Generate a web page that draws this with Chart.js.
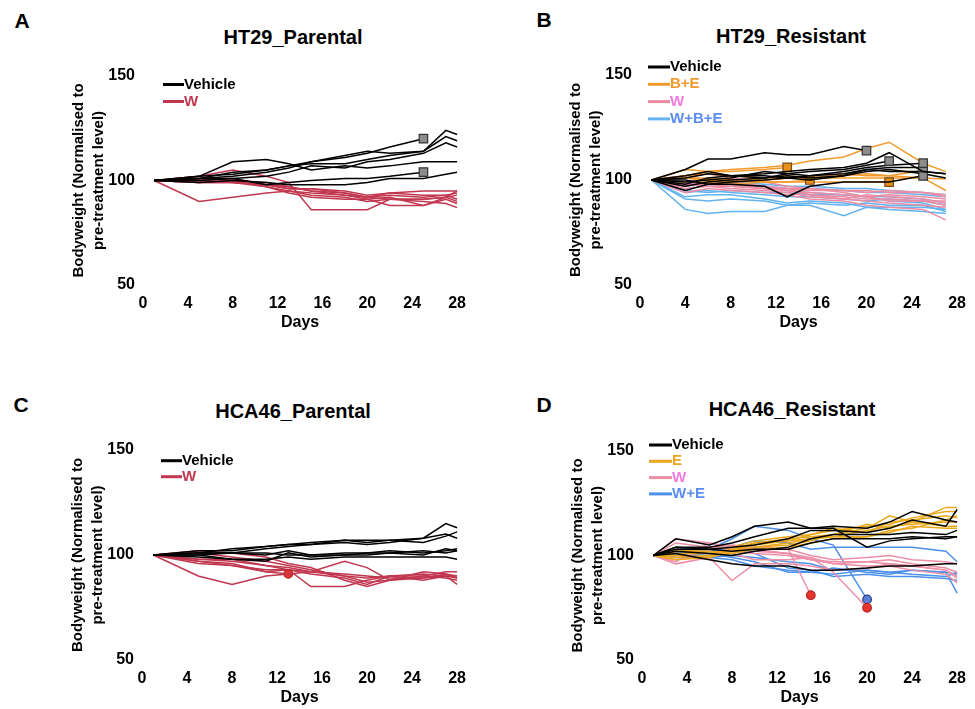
<!DOCTYPE html>
<html>
<head>
<meta charset="utf-8">
<script src="https://cdn.jsdelivr.net/npm/chart.js@4.4.1/dist/chart.umd.min.js"></script>
<style>
  body {
    margin: 0;
    width: 975px;
    height: 709px;
    position: relative;
    overflow: hidden;
    background: #fff;
    font-family: "Liberation Sans", Arial, sans-serif;
  }
  .letter,
  .title {
    position: absolute;
    font-weight: bold;
    transform: translate(-50%, -50%);
    white-space: nowrap;
  }
  .letter { font-size: 21px; }
  .title { font-size: 20px; }
  canvas { position: absolute; }
</style>
</head>
<body>
<div class="letter" style="left:22px;top:21px">A</div>
<div class="title" style="left:293px;top:37px">HT29_Parental</div>
<div class="letter" style="left:544px;top:20px">B</div>
<div class="title" style="left:791px;top:36px">HT29_Resistant</div>
<div class="letter" style="left:21px;top:405px">C</div>
<div class="title" style="left:293px;top:411px">HCA46_Parental</div>
<div class="letter" style="left:544px;top:405px">D</div>
<div class="title" style="left:792px;top:409px">HCA46_Resistant</div>

<script>
// measurement days per study
const daysA = [1, 5, 8, 11, 13, 15, 18, 20, 22, 25, 27, 28];
const daysB = [1, 4, 6, 8, 11, 13, 15, 18, 20, 22, 25, 27];
const daysC = [1, 5, 8, 11, 13, 15, 18, 20, 22, 25, 27, 28];
const daysD = [1, 3, 6, 8, 10, 13, 15, 17, 20, 22, 24, 27, 28];

// HT29 parental, one row per mouse (% of day-1 weight)
const aVehicle = [
  [100, 101, 102, 104, 106, 109, 112, 114, 113, 114, 124, 122],
  [100, 102, 103, 105, 107, 108, 108, 110, 112, 114, 121, 119],
  [100, 101, 101, 102, 104, 107, 106, 109, 110, 113, 118, 116],
  [100, 102, 109, 110, 108, 105, 107, 106, 107, 109, 109, 109],
  [100, 99, 100, 99, 98, 98, 98, 99, 101, 101, 103, 104],
  [100, 101, 104, 105, 107, 109, 111, 113, 116, 120],
  [100, 100, 101, 98, 99, 100, 101, 101, 102, 104],
];
const aVehicleMarked = [5, 6];
const aW = [
  [100, 90, 92, 94, 95, 94, 93, 92, 93, 92, 93, 94],
  [100, 102, 105, 102, 99, 86, 86, 86, 91, 91, 92, 95],
  [100, 99, 100, 99, 97, 95, 94, 92, 91, 90, 89, 87],
  [100, 100, 101, 98, 96, 96, 94, 92, 94, 93, 93, 91],
  [100, 99, 99, 97, 95, 93, 92, 90, 91, 91, 92, 90],
  [100, 100, 99, 98, 97, 95, 93, 91, 92, 88, 92, 93],
  [100, 101, 100, 97, 94, 92, 91, 91, 88, 88, 91, 89],
  [100, 99, 99, 98, 96, 96, 95, 93, 94, 95, 95, 95],
];

// HT29 resistant
const bVehicle = [
  [100, 105, 110, 110, 113, 112, 112, 116, 114],
  [100, 98, 101, 102, 103, 104, 105, 106, 108, 113, 104, 103],
  [100, 97, 99, 100, 101, 103, 104, 105, 107, 109],
  [100, 101, 103, 102, 102, 101, 102, 104, 106, 107, 108],
  [100, 99, 100, 101, 104, 103, 102, 103, 105, 106, 106],
  [100, 95, 98, 98, 97, 92, 97, 99, 99, 99, 102],
  [100, 102, 104, 102, 101, 102, 101, 102, 104, 105, 103, 101],
  [100, 100, 98, 99, 100, 101, 100, 102, 105, 104, 104, 103],
];
const bVehicleMarked = [0, 2, 3, 4, 5];
const bBE = [
  [100, 105, 104, 104, 105, 106],
  [100, 101, 101, 100, 99, 99, 100],
  [100, 102, 104, 105, 106, 107, 109, 111, 115, 118, 108, 104],
  [100, 101, 100, 99, 100, 101, 101, 103, 102, 102, 104.5],
  [100, 99, 99, 98, 99, 99, 99, 99, 99, 99],
  [100, 101, 100, 100, 100, 101, 101, 102, 103, 102, 101, 95],
  [100, 102, 103, 102, 101, 102, 101, 101, 101, 101, 101, 100.5],
];
const bBEMarked = [0, 1, 3, 4];
const bW = [
  [100, 94, 96, 95, 94, 93, 91, 90, 88, 87, 86, 81],
  [100, 97, 99, 98, 96, 95, 93, 91, 90, 89, 88, 87],
  [100, 98, 97, 96, 95, 94, 92, 91, 93, 92, 91, 89],
  [100, 99, 100, 98, 96, 95, 94, 93, 92, 93, 92, 91],
  [100, 96, 97, 97, 96, 96, 95, 95, 94, 95, 94, 93],
  [100, 101, 103, 101, 99, 97, 96, 94, 92, 90, 90, 88],
  [100, 98, 98, 99, 97, 96, 93, 92, 91, 91, 90, 90],
  [100, 99, 98, 97, 96, 96, 96, 95, 95, 94, 94, 92],
];
const bWBE = [
  [100, 86, 84, 85, 85, 88, 88, 83, 87, 86, 85, 84],
  [100, 91, 90, 91, 90, 88, 89, 88, 89, 88, 88, 85],
  [100, 92, 93, 93, 91, 89, 90, 89, 87, 87, 87, 86],
  [100, 94, 95, 94, 93, 92, 92, 91, 90, 91, 90, 88],
  [100, 95, 94, 95, 94, 94, 93, 93, 92, 92, 91, 89],
  [100, 97, 98, 97, 97, 96, 96, 95, 94, 94, 93, 92],
  [100, 99, 100, 99, 98, 97, 97, 96, 96, 95, 94, 93],
  [100, 98, 99, 98, 97, 95, 94, 93, 92, 90, 89, 86],
];

// HCA46 parental
const cVehicle = [
  [100, 101, 103, 104, 105, 106, 107, 106, 107, 108, 115, 113],
  [100, 102, 102, 104, 105, 105, 107, 107, 107, 106, 109, 111],
  [100, 101, 101, 103, 104, 105, 106, 105, 106, 108, 110, 108],
  [100, 100, 101, 100, 102, 100, 101, 101, 102, 101, 102, 103],
  [100, 100, 98, 97, 101, 99, 100, 100, 101, 100, 103, 102],
  [100, 99, 98, 98, 99, 98, 99, 99, 99, 99, 99, 98],
  [100, 101, 101, 101, 100, 100, 100, 101, 101, 102, 101, 102],
];
const cW = [
  [100, 90, 86, 90, 91, 92, 97, 94, 88, 89, 91, 90],
  [100, 97, 95, 92, 91],
  [100, 98, 98, 95, 93, 85, 85, 88, 90, 91, 90, 90],
  [100, 96, 95, 93, 93, 91, 89, 86, 90, 90, 89, 88],
  [100, 97, 96, 92, 93, 92, 91, 90, 89, 89, 90, 86],
  [100, 102, 101, 99, 96, 94, 88, 85, 88, 90, 92, 92],
  [100, 98, 97, 95, 94, 92, 90, 87, 88, 92, 91, 89],
  [100, 101, 99, 97, 95, 93, 90, 89, 90, 88, 90, 89],
];
const cWMarked = [1];

// HCA46 resistant
const dVehicle = [
  [100, 108, 105, 109, 114, 116, 113, 114, 113, 116, 121, 117, 116],
  [100, 104, 104, 106, 109, 113, 113, 113, 104, 107, 108, 109, 109],
  [100, 103, 103, 104, 105, 108, 112, 112, 111, 113, 117, 114, 122],
  [100, 102, 101, 100, 102, 104, 108, 110, 110, 110, 111, 110, 112],
  [100, 101, 98, 96, 95, 95, 93, 93, 94, 95, 95, 96, 96],
  [100, 104, 103, 102, 103, 103, 106, 108, 108, 108, 109, 108, 109],
];
const dE = [
  [100, 98, 99, 102, 106, 107, 110, 112, 114, 115, 118, 121, 121],
  [100, 101, 101, 103, 106, 108, 109, 110, 113, 119, 116, 123, 123],
  [100, 102, 103, 104, 107, 109, 110, 113, 111, 116, 117, 119, 118],
  [100, 103, 101, 102, 104, 105, 107, 110, 115, 113, 116, 114, 114],
  [100, 99, 100, 101, 103, 104, 106, 108, 109, 111, 114, 113, 113],
  [100, 102, 102, 101, 104, 106, 108, 109, 109, 112, 113, 117, 119],
  [100, 100, 99, 103, 105, 107, 108, 109, 112, 114, 115, 116, 116],
];
const dW = [
  [100, 108, 106, 104, 104, 103, 81],
  [100, 102, 104, 103, 102, 101, 99, 92, 75],
  [100, 96, 99, 88, 96, 96, 95, 93, 94, 96, 95, 93, 90],
  [100, 97, 106, 104, 103, 101, 98, 96, 97, 98, 96, 94, 92],
  [100, 99, 102, 101, 98, 98, 99, 96, 95, 95, 93, 91, 87],
  [100, 106, 104, 105, 104, 103, 100, 98, 99, 100, 98, 97, 96],
  [100, 98, 100, 102, 101, 100, 98, 97, 97, 96, 95, 93, 89],
];
const dWMarked = [0, 1];
const dWE = [
  [100, 101, 103, 108, 114, 112, 108, 105, 79],
  [100, 102, 102, 104, 107, 106, 103, 104, 104, 104, 104, 102, 97],
  [100, 99, 99, 98, 95, 93, 92, 91, 93, 92, 93, 92, 82],
  [100, 100, 101, 99, 97, 92, 92, 94, 92, 91, 93, 92, 91],
  [100, 103, 104, 103, 101, 94, 93, 90, 91, 90, 90, 89, 88],
  [100, 101, 99, 100, 99, 97, 96, 93, 93, 92, 91, 90, 92],
];
const dWEMarked = [0];

const RED = "#c1374f";
const PINK_TEXT = "#f27cdd";
const greySquare = { mark: "rect", fill: "#8c8c8c", edge: "#333" };

const panels = [
  {
    days: daysA,
    box: { left: 143, top: 76, right: 463, bottom: 285 },
    key: { x: 20, y: 8.5, step: 17, len: 21 },
    groups: [
      { label: "Vehicle", rows: aVehicle, marked: aVehicleMarked, line: "#000", text: "#000", ...greySquare },
      { label: "W", rows: aW, marked: [], line: RED, text: RED },
    ],
  },
  {
    days: daysB,
    box: { left: 640, top: 75, right: 963, bottom: 285 },
    key: { x: 8, y: -8, step: 17.3, len: 22 },
    groups: [
      { label: "Vehicle", rows: bVehicle, marked: bVehicleMarked, line: "#000", text: "#000", ...greySquare },
      { label: "B+E", rows: bBE, marked: bBEMarked, line: "#f39a2c", text: "#f39a2c", mark: "rect", fill: "#e8901e", edge: "#7a4a10" },
      { label: "W", rows: bW, marked: [], line: "#ec8ba3", text: PINK_TEXT },
      { label: "W+B+E", rows: bWBE, marked: [], line: "#62b3ee", text: "#5b8def" },
    ],
  },
  {
    days: daysC,
    box: { left: 142, top: 450, right: 463, bottom: 660 },
    key: { x: 19, y: 10.7, step: 16, len: 21 },
    groups: [
      { label: "Vehicle", rows: cVehicle, marked: [], line: "#000", text: "#000" },
      { label: "W", rows: cW, marked: cWMarked, line: RED, text: RED, mark: "circle", fill: "#e8332d", edge: "#b02424" },
    ],
  },
  {
    days: daysD,
    box: { left: 642, top: 451, right: 963, bottom: 660 },
    key: { x: 7, y: -6, step: 16.3, len: 23 },
    groups: [
      { label: "Vehicle", rows: dVehicle, marked: [], line: "#000", text: "#000" },
      { label: "E", rows: dE, marked: [], line: "#eaa81c", text: "#eaa81c" },
      { label: "W", rows: dW, marked: dWMarked, line: "#ee8fa8", text: PINK_TEXT, mark: "circle", fill: "#e8332d", edge: "#b02424" },
      { label: "W+E", rows: dWE, marked: dWEMarked, line: "#4d90e8", text: "#5b8def", mark: "circle", fill: "#5b7fd6", edge: "#2a3a80" },
    ],
  },
];

Chart.defaults.font.family = '"Liberation Sans", Arial, sans-serif';
Chart.defaults.color = "#000";

// draws the treatment key in the upper left of the plot area
const keyPlugin = (p) => ({
  id: "key",
  afterDraw(chart) {
    const { ctx, chartArea } = chart;
    ctx.save();
    ctx.font = "bold 15px 'Liberation Sans', Arial, sans-serif";
    ctx.textBaseline = "middle";
    p.groups.forEach((g, i) => {
      const x = chartArea.left + p.key.x;
      const y = chartArea.top + p.key.y + i * p.key.step;
      ctx.strokeStyle = g.line;
      ctx.lineWidth = 3;
      ctx.beginPath();
      ctx.moveTo(x, y);
      ctx.lineTo(x + p.key.len, y);
      ctx.stroke();
      ctx.fillStyle = g.text;
      ctx.fillText(g.label, x + p.key.len, y);
    });
    ctx.restore();
  },
});

const PAD_TOP = 26;
const PAD_RIGHT = 12;
const Y_AXIS_W = 74;
const X_AXIS_H = 47;

panels.forEach((p) => {
  const datasets = [];
  p.groups.forEach((g) => {
    g.rows.forEach((row, r) => {
      const hasMark = g.marked.includes(r);
      const last = row.length - 1;
      datasets.push({
        label: g.label,
        data: row.map((v, i) => ({ x: p.days[i], y: v })),
        borderColor: g.line,
        borderWidth: 1.5,
        tension: 0,
        pointStyle: g.mark || "circle",
        pointRadius: (c) => (hasMark && c.dataIndex === last ? (g.mark === "rect" ? 6 : 4.3) : 0),
        pointBackgroundColor: g.fill,
        pointBorderColor: g.edge,
        pointBorderWidth: 1.2,
        clip: false,
      });
    });
  });

  const left = p.box.left - Y_AXIS_W;
  const top = p.box.top - PAD_TOP;
  const w = p.box.right + PAD_RIGHT - left;
  const h = p.box.bottom + X_AXIS_H + 2 - top;
  const canvas = document.createElement("canvas");
  canvas.width = w;
  canvas.height = h;
  canvas.style.left = left + "px";
  canvas.style.top = top + "px";
  canvas.style.width = w + "px";
  canvas.style.height = h + "px";
  document.body.append(canvas);

  new Chart(canvas.getContext("2d"), {
    type: "line",
    data: { datasets },
    options: {
      responsive: false,
      animation: false,
      devicePixelRatio: 1,
      events: [],
      layout: { padding: { left: 0, top: PAD_TOP, right: PAD_RIGHT, bottom: 2 } },
      plugins: {
        legend: { display: false },
        tooltip: { enabled: false },
      },
      scales: {
        x: {
          type: "linear",
          min: 0,
          max: 28,
          grid: { display: false, drawTicks: false },
          border: { display: false },
          ticks: { stepSize: 4, padding: 9, maxRotation: 0, font: { size: 16, weight: "bold" } },
          title: { display: true, text: "Days", padding: 0, font: { size: 16, weight: "bold" } },
          afterFit: (s) => { s.height = X_AXIS_H; },
        },
        y: {
          min: 50,
          max: 150,
          grid: { display: false, drawTicks: false },
          border: { display: false },
          ticks: { stepSize: 50, padding: 8, font: { size: 16, weight: "bold" } },
          title: {
            display: true,
            text: ["Bodyweight (Normalised to", "pre-treatment level)"],
            padding: 0,
            font: { size: 15, weight: "bold", lineHeight: "20px" },
          },
          afterFit: (s) => { s.width = Y_AXIS_W; },
        },
      },
    },
    plugins: [keyPlugin(p)],
  });
});
</script>
</body>
</html>
